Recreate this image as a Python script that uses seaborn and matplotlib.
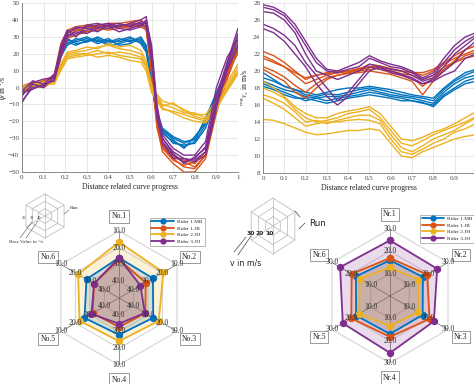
import numpy as np
import pandas as pd
import matplotlib
matplotlib.use('Agg')
import matplotlib.pyplot as plt
import seaborn as sns
from matplotlib.lines import Line2D

riders = ['Rider 1.MB', 'Rider 1.JB', 'Rider 2.JH', 'Rider 3.JH']
colors = {'Rider 1.MB': '#0072BD', 'Rider 1.JB': '#D95319',
          'Rider 2.JH': '#EDB120', 'Rider 3.JH': '#7E2F8E'}

# yaw rate runs (top left)
x_yaw = [0, 0.05, 0.1, 0.15, 0.18, 0.21, 0.25, 0.3, 0.35, 0.4, 0.45, 0.5,
         0.55, 0.575, 0.6, 0.625, 0.65, 0.7, 0.75, 0.8, 0.85, 0.9, 0.95, 1.0]
yaw_mb = [
    [-1, 2, 3, 6, 20, 28, 27, 29, 26, 28, 27, 29, 28, 24, 5, -15, -25, -30, -33, -30, -20, -5, 10, 25],
    [-3, 0, 2, 5, 18, 26, 29, 27, 30, 27, 29, 27, 30, 25, 3, -18, -27, -32, -35, -32, -22, -8, 8, 22],
    [0, 3, 1, 7, 22, 27, 25, 28, 28, 25, 26, 28, 27, 23, 6, -14, -24, -29, -32, -31, -18, -3, 12, 26],
    [-2, 1, 2, 5, 19, 25, 28, 30, 27, 29, 25, 26, 29, 22, 2, -17, -26, -33, -34, -33, -24, -6, 9, 23],
    [-1, 2, 0, 6, 21, 29, 26, 27, 29, 26, 28, 30, 26, 21, 4, -16, -25, -31, -36, -29, -21, -4, 11, 24],
]
yaw_jb = [
    [0, 2, 3, 6, 24, 32, 35, 36, 35, 37, 36, 38, 38, 36, 12, -20, -35, -42, -47, -48, -40, -12, 8, 25],
    [-2, 0, 1, 5, 20, 30, 34, 33, 34, 35, 37, 36, 37, 35, 10, -22, -38, -45, -50, -50, -42, -15, 5, 22],
    [1, 3, 2, 8, 26, 34, 36, 37, 36, 38, 38, 39, 40, 37, 14, -18, -33, -40, -43, -45, -38, -8, 12, 28],
    [-4, 1, 0, 4, 18, 29, 31, 33, 35, 34, 35, 37, 36, 34, 8, -24, -36, -43, -46, -44, -38, -10, 10, 20],
    [-1, 2, 4, 7, 22, 33, 34, 35, 37, 36, 36, 35, 38, 38, 15, -16, -34, -41, -44, -47, -40, -14, 6, 24],
]
yaw_jh2 = [
    [0, 1, 2, 4, 12, 20, 21, 22, 24, 25, 23, 22, 20, 14, 0, -5, -10, -12, -15, -15, -18, -10, 0, 10],
    [-1, 0, 1, 3, 10, 17, 18, 19, 20, 21, 19, 18, 17, 12, -2, -8, -13, -14, -16, -18, -20, -12, -2, 8],
    [1, 2, 3, 5, 14, 21, 22, 24, 23, 26, 24, 25, 22, 16, 2, -4, -8, -10, -13, -16, -16, -8, 3, 14],
    [0, 0, 2, 2, 11, 18, 19, 20, 22, 20, 21, 20, 18, 13, -1, -6, -11, -9, -14, -17, -19, -11, 1, 12],
    [-1, 1, 1, 4, 13, 19, 20, 20, 18, 19, 18, 16, 15, 10, -3, -7, -12, -15, -18, -20, -21, -13, -1, 9],
]
yaw_jh3 = [
    [-2, 4, 2, 8, 22, 33, 35, 36, 37, 38, 36, 38, 40, 42, 20, -15, -30, -38, -42, -43, -38, -10, 12, 30],
    [-8, 0, 1, 5, 18, 30, 32, 34, 36, 35, 37, 37, 38, 36, 15, -18, -32, -40, -44, -42, -35, -5, 15, 35],
    [-5, 3, 5, 6, 25, 34, 30, 37, 38, 36, 33, 35, 37, 40, 25, -10, -28, -36, -40, -40, -32, 0, 18, 28],
    [-3, -1, 2, 4, 20, 32, 36, 35, 33, 37, 38, 36, 39, 38, 18, -12, -33, -42, -42, -44, -40, -12, 10, 25],
    [-9, 2, 0, 7, 23, 31, 33, 32, 35, 37, 35, 34, 36, 39, 22, -14, -30, -39, -45, -41, -36, -8, 14, 32],
]

# speed runs (top right)
x_speed = [0, 0.05, 0.1, 0.15, 0.2, 0.25, 0.3, 0.35, 0.4, 0.45, 0.5,
           0.55, 0.6, 0.65, 0.7, 0.75, 0.8, 0.85, 0.9, 0.95, 1.0]
speed_mb = [
    [19.8, 19, 18.2, 17.8, 17.2, 17, 17.3, 17.2, 17.5, 17.8, 18, 17.8, 17.5, 17.2, 17, 16.8, 16.5, 17.8, 18.8, 19.5, 20],
    [18.8, 18.3, 17.8, 17.5, 17, 16.8, 17, 17, 17.2, 17.5, 17.8, 17.5, 17.2, 17, 16.8, 16.5, 16.2, 17.5, 18.5, 19.2, 19.5],
    [18.5, 18, 17.5, 17, 16.5, 16.8, 16.5, 16.8, 17, 17.2, 17.5, 17.3, 17, 16.8, 16.5, 16.2, 16, 17.2, 18, 18.8, 19.2],
    [19.2, 18.8, 18.2, 17.8, 17.5, 17.2, 17.5, 17.8, 18, 18, 18.2, 18, 17.8, 17.5, 17.2, 17, 16.8, 18, 19, 19.8, 20.2],
    [18.2, 17.8, 17.2, 16.8, 16.8, 16.5, 16.2, 16.5, 16.8, 17, 17.2, 17, 16.8, 16.5, 16.5, 16.3, 15.8, 17, 17.8, 18.5, 18.8],
]
speed_jb = [
    [22.3, 21.8, 21, 20, 19, 19.5, 19.8, 20, 20, 20.3, 20.5, 20.5, 20.2, 20, 19.8, 19.5, 20, 20.8, 21.5, 22, 22.5],
    [21.8, 21.2, 20.5, 19.5, 18.5, 19, 19.5, 19.8, 20, 20, 20.2, 20.3, 20, 19.7, 19.5, 19, 19.5, 20.5, 21, 21.8, 22.2],
    [20.5, 20, 19.3, 18.3, 17.5, 18.5, 19.2, 19.5, 19.8, 20, 20.5, 20.2, 19.8, 19.5, 19.2, 18.2, 19.2, 20.2, 21.2, 22.5, 23],
    [20.2, 19.5, 18.8, 17.5, 16.8, 18, 19, 19.5, 19.7, 19.8, 20, 19.8, 19.6, 19.2, 18.8, 17.2, 18.8, 20, 21, 21.5, 21.8],
    [21.5, 21, 20.5, 19.8, 19.2, 19.5, 19.7, 19.8, 19.9, 20.2, 20.8, 20.6, 20.3, 20, 19.8, 19.8, 20.2, 21, 21.8, 22.5, 23],
]
speed_jh2 = [
    [18.8, 18, 17, 15.8, 15, 14.5, 14.5, 15, 15.3, 15.5, 15.8, 15, 13.5, 12, 11.8, 12.2, 12.8, 13.2, 13.8, 14.5, 15.2],
    [18, 17.5, 16.8, 15.5, 14.5, 14, 14.2, 14.5, 15, 15.2, 15.5, 14.5, 13, 11.5, 11.2, 11.8, 12.5, 13, 13.5, 14, 14.6],
    [17.2, 16.8, 16.2, 15.2, 14, 14.2, 13.8, 14.2, 14.5, 14.8, 14.8, 14.2, 12.5, 11, 10.5, 11.2, 12, 12.5, 13, 13.8, 14.5],
    [16.8, 16.2, 15.5, 14.5, 13.5, 13.8, 14, 14, 14.2, 14.3, 14.2, 13.8, 12, 10.5, 10.2, 10.8, 11.5, 12, 12.8, 13.2, 13.8],
    [14.3, 14.2, 13.8, 13.3, 12.8, 12.5, 12.6, 12.8, 13, 13, 13.2, 13, 11.5, 10, 9.8, 10.5, 11, 11.5, 12, 12.3, 12.5],
]
speed_jh3 = [
    [27.5, 27.2, 26.5, 25, 23, 21, 20, 19.8, 20.2, 20.5, 21.5, 21, 20.5, 20.3, 19.8, 19, 19.5, 21, 22.5, 23.5, 24.2],
    [27, 26.8, 26, 24.5, 22, 20, 19.5, 19, 19.5, 20, 20.8, 20.5, 20.2, 20, 19.5, 18.8, 19.2, 20.5, 22, 23, 24],
    [25.5, 25, 24.2, 23, 21, 19.5, 18, 16.5, 17.5, 19, 20.5, 20.2, 20, 19.6, 19.2, 18.5, 19, 20, 21, 22.5, 23.5],
    [25, 24.5, 23.5, 22, 20.5, 18.5, 17, 16, 17, 18.5, 20, 20.5, 19.8, 19.5, 19, 18.5, 18.8, 19.5, 20, 21.5, 22],
    [27.8, 27.5, 26.8, 25.5, 23.5, 21.5, 20.2, 20, 20.5, 21, 21.8, 21.2, 20.8, 20.5, 20, 19.2, 19.8, 21.5, 23, 24, 24.5],
]

# radar values (bottom)
axes_no = ['No.1', 'No.2', 'No.3', 'No.4', 'No.5', 'No.6']
axes_nr = ['Nr.1', 'Nr.2', 'Nr.3', 'Nr.4', 'Nr.5', 'Nr.6']
base_mb = [26, 26.6, 26.4, 28, 26.2, 27.6]
base_jb = [27, 31.6, 31.8, 32.6, 31.8, 32.8]
base_jh2 = [16.6, 19.4, 22.6, 24.2, 22.8, 21.8]
base_jh3 = [26, 35.2, 32.2, 34.6, 31, 32.8]
vel_mb = [16, 17, 16.9, 17, 17.5, 17.6]
vel_jb = [17, 19.2, 20.5, 18.3, 20, 19.8]
vel_jh2 = [12.8, 14.7, 14.4, 13.5, 16, 15.6]
vel_jh3 = [24.9, 24.4, 22.7, 25.5, 24.4, 25.8]


def long_table(x, runs_by_rider):
    rows = []
    for rider, runs in runs_by_rider.items():
        for k, run in enumerate(runs):
            for xv, yv in zip(x, run):
                rows.append((rider, k, xv, yv))
    return pd.DataFrame(rows, columns=['rider', 'run', 'x', 'y'])


df_yaw = long_table(x_yaw, {'Rider 1.MB': yaw_mb, 'Rider 1.JB': yaw_jb,
                            'Rider 2.JH': yaw_jh2, 'Rider 3.JH': yaw_jh3})
df_speed = long_table(x_speed, {'Rider 1.MB': speed_mb, 'Rider 1.JB': speed_jb,
                                'Rider 2.JH': speed_jh2, 'Rider 3.JH': speed_jh3})

sns.set_theme(style='whitegrid', rc={'grid.color': '#e3e3e3', 'grid.linewidth': 0.6,
                                     'axes.edgecolor': '#777777', 'axes.linewidth': 0.6})
plt.rcParams['font.family'] = ['Liberation Serif', 'DejaVu Serif']
plt.rcParams['mathtext.fontset'] = 'stix'

fig = plt.figure(figsize=(4.74, 3.84), dpi=100)

tick_pos = np.round(np.arange(0, 1.01, 0.1), 1)
tick_txt = ['0'] + [f'{t:g}' for t in tick_pos[1:-1]] + ['1']


def style_line_axes(ax, ylim, yticks):
    ax.set_xlim(0, 1)
    ax.set_ylim(*ylim)
    ax.set_xticks(tick_pos)
    ax.set_xticklabels(tick_txt)
    ax.set_yticks(yticks)
    ax.tick_params(labelsize=5, colors='#444444', length=2, direction='in', pad=2)
    ax.set_xlabel('Distance related curve progress', fontsize=5.5, labelpad=2, color='#222222')
    for s in ['top', 'right']:
        ax.spines[s].set_visible(False)


ax1 = fig.add_axes([0.0464, 0.552, 0.4557, 0.440])
sns.lineplot(data=df_yaw, x='x', y='y', hue='rider', units='run', estimator=None,
             hue_order=riders, palette=colors, lw=1.0, legend=False, sort=False, ax=ax1)
style_line_axes(ax1, (-50, 50), np.arange(-50, 51, 10))
ax1.set_ylabel(r'$\dot{\psi}$ in °/s', fontsize=5.5, color='#222222')
ax1.yaxis.set_label_coords(-0.058, 0.5)

ax2 = fig.add_axes([0.5549, 0.5495, 0.449, 0.4427])
sns.lineplot(data=df_speed, x='x', y='y', hue='rider', units='run', estimator=None,
             hue_order=riders, palette=colors, lw=1.0, legend=False, sort=False, ax=ax2)
style_line_axes(ax2, (8, 28), np.arange(8, 29, 2))
ax2.set_ylabel(r'$^{\mathrm{cog}}v_x$ in m/s', fontsize=5.5, color='#222222')
ax2.yaxis.set_label_coords(-0.058, 0.5)


def draw_radar(ax, labels, series, rings, rlim, label_r):
    n = len(labels)
    ang = np.linspace(0, 2 * np.pi, n, endpoint=False)
    ang_c = np.append(ang, ang[0])
    ax.set_theta_offset(np.pi / 2)
    ax.set_theta_direction(-1)
    ax.set_ylim(*rlim)
    ax.grid(False)
    ax.set_xticks([])
    ax.set_yticks([])
    ax.spines['polar'].set_visible(False)
    ax.patch.set_alpha(0)
    for r in rings:
        ax.plot(ang_c, [r] * (n + 1), color='#d4d4d4', lw=0.8, zorder=1)
    for a in ang:
        ax.plot([a, a], [rlim[0], rlim[1]], color='#666666', lw=0.5, zorder=1)
    for rider in riders:
        vals = series[rider] + series[rider][:1]
        ax.fill(ang_c, vals, color=colors[rider], alpha=0.17, lw=0, zorder=2)
        ax.plot(ang_c, vals, color=colors[rider], lw=1.3, marker='o', ms=4.3, zorder=3)
    for a in ang:
        for r in rings:
            ax.text(a, r, f'{r:.1f}', ha='center', va='center', fontsize=5.5,
                    color='#333333', zorder=6)
    for a, lab in zip(ang, labels):
        ax.text(a, label_r, lab, ha='center', va='center', fontsize=5.5, color='#222222',
                bbox=dict(boxstyle='square,pad=0.3', fc='white', ec='#8a8a8a', lw=0.6))


ax3 = fig.add_axes([0.1097, 0.0495, 0.2827, 0.349], projection='polar')
draw_radar(ax3, axes_no, {'Rider 1.MB': base_mb, 'Rider 1.JB': base_jb,
                          'Rider 2.JH': base_jh2, 'Rider 3.JH': base_jh3},
           [10, 20, 30, 40], (50, 10), 1.2)

ax4 = fig.add_axes([0.6814, 0.0547, 0.2827, 0.349], projection='polar')
draw_radar(ax4, axes_nr, {'Rider 1.MB': vel_mb, 'Rider 1.JB': vel_jb,
                          'Rider 2.JH': vel_jh2, 'Rider 3.JH': vel_jh3},
           [10, 20, 30], (0, 30), 36.6)

handles = [Line2D([], [], color=colors[r], lw=1.3, marker='o', ms=3.5) for r in riders]
for anchor in [(0.310, 0.440), (0.880, 0.448)]:
    leg = fig.legend(handles, riders, loc='upper left', bbox_to_anchor=anchor, fontsize=3.8,
                     frameon=True, fancybox=False, edgecolor='#999999', handlelength=4.2,
                     borderpad=0.35, labelspacing=0.35, handletextpad=0.7, framealpha=1)
    leg.get_frame().set_linewidth(0.5)

# small explanatory sketches of the radar layout
deco = fig.add_axes([0, 0, 1, 1], zorder=-1)
deco.set_xlim(0, 474)
deco.set_ylim(384, 0)
deco.axis('off')
hex_ang = np.linspace(0, 2 * np.pi, 7) + np.pi / 2
for cx, cy, rad, sx in [(45, 216, 22, 1.0), (273, 226, 28, 0.9)]:
    for f in [1 / 3, 2 / 3, 1]:
        deco.plot(cx + sx * rad * f * np.cos(hex_ang), cy - rad * f * np.sin(hex_ang),
                  color='#c0c0c0', lw=0.6)
    for a in hex_ang[:-1]:
        deco.plot([cx, cx + sx * rad * np.cos(a)], [cy, cy - rad * np.sin(a)],
                  color='#c0c0c0', lw=0.6)
deco.text(70, 209, 'Run', fontsize=3.8, color='#333333')
deco.plot([64, 69], [214, 210], color='#555555', lw=0.4)
for x0, t in [(22, '20'), (30, '30'), (37, '40')]:
    deco.text(x0, 219, t, fontsize=3.2, color='#333333')
deco.text(9, 243, 'Base Value in °/s', fontsize=3.6, color='#333333')
deco.plot([20, 32], [238, 222], color='#555555', lw=0.4)
deco.plot([26, 38], [238, 221], color='#555555', lw=0.4)

sans = ['DejaVu Sans']
deco.text(309, 226, 'Run', fontsize=6.3, color='#222222', family=sans)
deco.plot([299, 305], [229, 223], color='#444444', lw=0.5)
deco.plot([295, 300], [211, 217], color='#444444', lw=0.5)
for x0, t in [(247, '30'), (256, '20'), (265, '10')]:
    deco.text(x0, 235, t, fontsize=4.3, fontweight='bold', color='#222222', family=sans)
deco.text(230, 266, 'v in m/s', fontsize=5.6, color='#222222', family=sans)
deco.plot([238, 251], [255, 236], color='#444444', lw=0.5)
deco.plot([234, 246], [252, 237], color='#444444', lw=0.5)

fig.savefig('out.png', dpi=100)
